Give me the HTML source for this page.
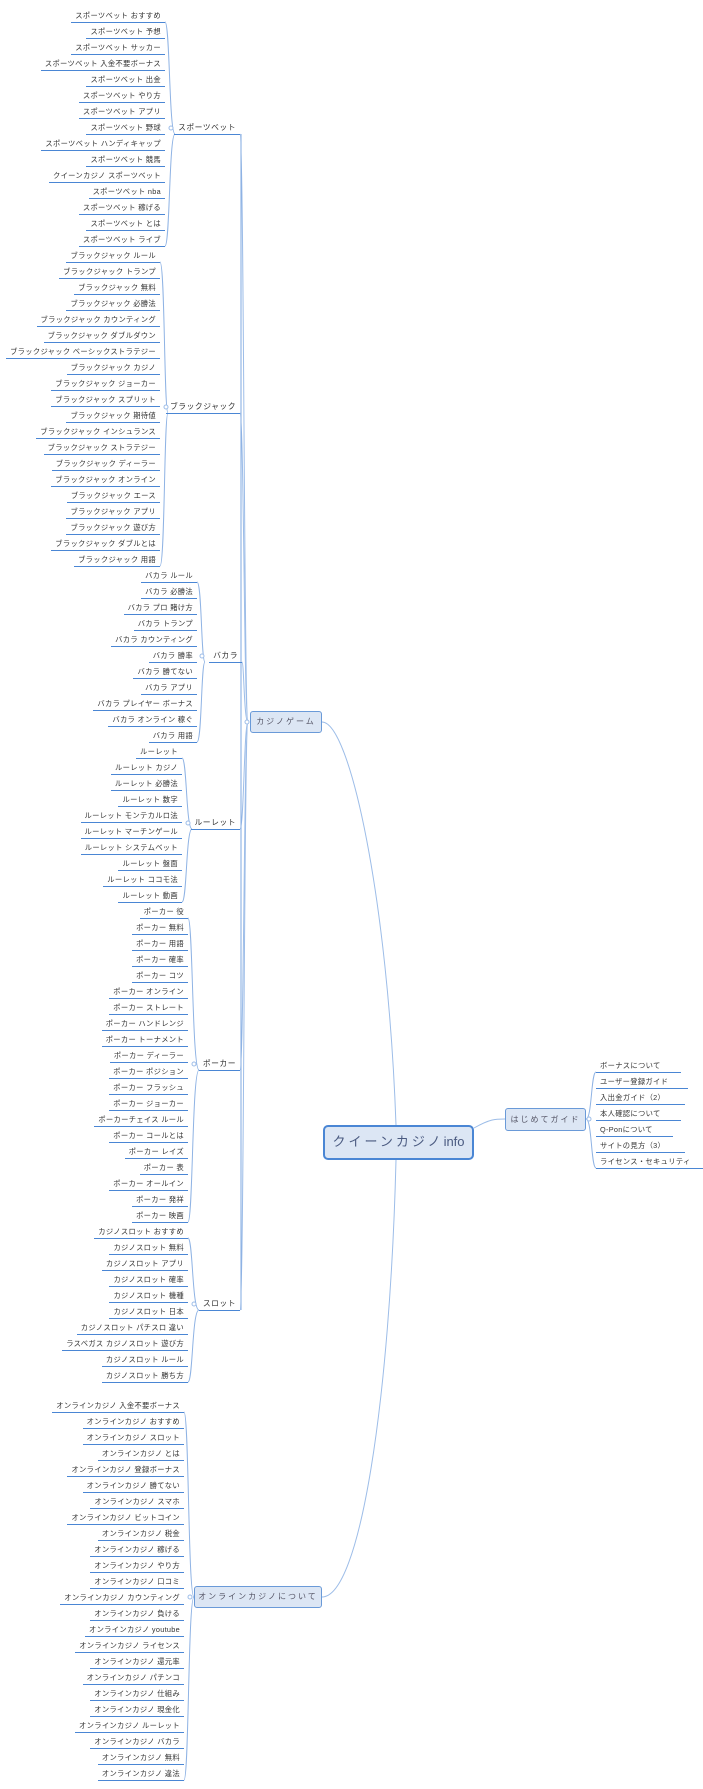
<!DOCTYPE html>
<html><head><meta charset="utf-8"><style>
body{margin:0;background:#fff;}
#c{position:relative;width:703px;height:1789px;overflow:hidden;font-family:"Liberation Sans","Noto Sans CJK JP",sans-serif;color:#333;}
svg{position:absolute;left:0;top:0;}
.i,.g,.r{position:absolute;font-size:7.3px;line-height:10px;padding:0 4px 1px 4px;border-bottom:1.5px solid #4a86d4;white-space:nowrap;letter-spacing:0.3px;}
.g{font-size:7.8px;letter-spacing:0.5px;}
.b{position:absolute;background:#dce6f4;border:1px solid #6a9ad8;border-radius:3px;box-sizing:border-box;text-align:center;font-size:8px;letter-spacing:2px;color:#556;}
</style></head><body><div id="c">
<svg width="703" height="1789" fill="none" stroke="#9dbde8" stroke-width="1">
<path d="M322 722 C350 722 388 900 396 1125"/>
<path d="M322 1597 C360 1597 390 1400 396 1160"/>
<path d="M474 1128 C490 1119 495 1119 505 1119"/>
<path d="M240 134 C244 134 244 722 248 722"/>
<path d="M240 413 C244 413 244 722 248 722"/>
<path d="M242 662 C244 662 244 722 248 722"/>
<path d="M240 829 C244 829 244 722 248 722"/>
<path d="M240 1070 C244 1070 244 722 248 722"/>
<path d="M240 1310 C244 1310 244 722 248 722"/>
<path d="M241 134 L241 1310" stroke="#7fa8e0"/>
<g stroke="#8fb3e4">
<path d="M165 22 C170 22 169 134 175 134 M165 246 C170 246 169 134 175 134"/>
<path d="M160 262 C165 262 164 413 168 413 M160 566 C165 566 164 413 168 413"/>
<path d="M197 582 C202 582 201 662 205 662 M197 742 C202 742 201 662 205 662"/>
<path d="M182 758 C187 758 186 829 192 829 M182 902 C187 902 186 829 192 829"/>
<path d="M188 918 C193 918 192 1070 199 1070 M188 1222 C193 1222 192 1070 199 1070"/>
<path d="M188 1238 C193 1238 192 1310 199 1310 M188 1382 C193 1382 192 1310 199 1310"/>
<path d="M184 1412 C189 1412 188 1597 194 1597 M184 1780 C189 1780 188 1597 194 1597"/>
<path d="M596 1072 C591 1072 592 1119 586 1119 M596 1168 C591 1168 592 1119 586 1119"/>
</g>
<g stroke="#9dbde8" fill="#fff">
<circle cx="171" cy="128" r="2"/><circle cx="166" cy="407" r="2"/><circle cx="202" cy="656" r="2"/>
<circle cx="188" cy="823" r="2"/><circle cx="194" cy="1064" r="2"/><circle cx="194" cy="1304" r="2"/>
<circle cx="190" cy="1597" r="2"/><circle cx="247" cy="722" r="2"/><circle cx="589" cy="1119" r="2"/>
</g>
</svg>

<div class="b" style="left:323px;top:1125px;width:151px;height:35px;border:2.5px solid #4a86d4;border-radius:5px;font-size:13px;line-height:30px;color:#4a5a80;letter-spacing:3px;">クイーンカジノ<span style="letter-spacing:0">info</span></div>
<div class="b" style="left:250px;top:711px;width:72px;height:22px;line-height:20px;">カジノゲーム</div>
<div class="b" style="left:505px;top:1108px;width:81px;height:23px;line-height:21px;">はじめてガイド</div>
<div class="b" style="left:194px;top:1586px;width:128px;height:22px;line-height:20px;">オンラインカジノについて</div>

<div class="g" style="right:463px;top:123px;">スポーツベット</div>
<div class="g" style="right:463px;top:402px;">ブラックジャック</div>
<div class="g" style="right:461px;top:651px;">バカラ</div>
<div class="g" style="right:463px;top:818px;">ルーレット</div>
<div class="g" style="right:463px;top:1059px;">ポーカー</div>
<div class="g" style="right:463px;top:1299px;">スロット</div>

<div class="i" style="right:538px;top:11px">スポーツベット おすすめ</div>
<div class="i" style="right:538px;top:27px">スポーツベット 予想</div>
<div class="i" style="right:538px;top:43px">スポーツベット サッカー</div>
<div class="i" style="right:538px;top:59px">スポーツベット 入金不要ボーナス</div>
<div class="i" style="right:538px;top:75px">スポーツベット 出金</div>
<div class="i" style="right:538px;top:91px">スポーツベット やり方</div>
<div class="i" style="right:538px;top:107px">スポーツベット アプリ</div>
<div class="i" style="right:538px;top:123px">スポーツベット 野球</div>
<div class="i" style="right:538px;top:139px">スポーツベット ハンディキャップ</div>
<div class="i" style="right:538px;top:155px">スポーツベット 競馬</div>
<div class="i" style="right:538px;top:171px">クイーンカジノ スポーツベット</div>
<div class="i" style="right:538px;top:187px">スポーツベット nba</div>
<div class="i" style="right:538px;top:203px">スポーツベット 稼げる</div>
<div class="i" style="right:538px;top:219px">スポーツベット とは</div>
<div class="i" style="right:538px;top:235px">スポーツベット ライブ</div>

<div class="i" style="right:543px;top:251px">ブラックジャック ルール</div>
<div class="i" style="right:543px;top:267px">ブラックジャック トランプ</div>
<div class="i" style="right:543px;top:283px">ブラックジャック 無料</div>
<div class="i" style="right:543px;top:299px">ブラックジャック 必勝法</div>
<div class="i" style="right:543px;top:315px">ブラックジャック カウンティング</div>
<div class="i" style="right:543px;top:331px">ブラックジャック ダブルダウン</div>
<div class="i" style="right:543px;top:347px">ブラックジャック ベーシックストラテジー</div>
<div class="i" style="right:543px;top:363px">ブラックジャック カジノ</div>
<div class="i" style="right:543px;top:379px">ブラックジャック ジョーカー</div>
<div class="i" style="right:543px;top:395px">ブラックジャック スプリット</div>
<div class="i" style="right:543px;top:411px">ブラックジャック 期待値</div>
<div class="i" style="right:543px;top:427px">ブラックジャック インシュランス</div>
<div class="i" style="right:543px;top:443px">ブラックジャック ストラテジー</div>
<div class="i" style="right:543px;top:459px">ブラックジャック ディーラー</div>
<div class="i" style="right:543px;top:475px">ブラックジャック オンライン</div>
<div class="i" style="right:543px;top:491px">ブラックジャック エース</div>
<div class="i" style="right:543px;top:507px">ブラックジャック アプリ</div>
<div class="i" style="right:543px;top:523px">ブラックジャック 遊び方</div>
<div class="i" style="right:543px;top:539px">ブラックジャック ダブルとは</div>
<div class="i" style="right:543px;top:555px">ブラックジャック 用語</div>

<div class="i" style="right:506px;top:571px">バカラ ルール</div>
<div class="i" style="right:506px;top:587px">バカラ 必勝法</div>
<div class="i" style="right:506px;top:603px">バカラ プロ 賭け方</div>
<div class="i" style="right:506px;top:619px">バカラ トランプ</div>
<div class="i" style="right:506px;top:635px">バカラ カウンティング</div>
<div class="i" style="right:506px;top:651px">バカラ 勝率</div>
<div class="i" style="right:506px;top:667px">バカラ 勝てない</div>
<div class="i" style="right:506px;top:683px">バカラ アプリ</div>
<div class="i" style="right:506px;top:699px">バカラ プレイヤー ボーナス</div>
<div class="i" style="right:506px;top:715px">バカラ オンライン 稼ぐ</div>
<div class="i" style="right:506px;top:731px">バカラ 用語</div>

<div class="i" style="right:521px;top:747px">ルーレット</div>
<div class="i" style="right:521px;top:763px">ルーレット カジノ</div>
<div class="i" style="right:521px;top:779px">ルーレット 必勝法</div>
<div class="i" style="right:521px;top:795px">ルーレット 数字</div>
<div class="i" style="right:521px;top:811px">ルーレット モンテカルロ法</div>
<div class="i" style="right:521px;top:827px">ルーレット マーチンゲール</div>
<div class="i" style="right:521px;top:843px">ルーレット システムベット</div>
<div class="i" style="right:521px;top:859px">ルーレット 盤面</div>
<div class="i" style="right:521px;top:875px">ルーレット ココモ法</div>
<div class="i" style="right:521px;top:891px">ルーレット 動画</div>

<div class="i" style="right:515px;top:907px">ポーカー 役</div>
<div class="i" style="right:515px;top:923px">ポーカー 無料</div>
<div class="i" style="right:515px;top:939px">ポーカー 用語</div>
<div class="i" style="right:515px;top:955px">ポーカー 確率</div>
<div class="i" style="right:515px;top:971px">ポーカー コツ</div>
<div class="i" style="right:515px;top:987px">ポーカー オンライン</div>
<div class="i" style="right:515px;top:1003px">ポーカー ストレート</div>
<div class="i" style="right:515px;top:1019px">ポーカー ハンドレンジ</div>
<div class="i" style="right:515px;top:1035px">ポーカー トーナメント</div>
<div class="i" style="right:515px;top:1051px">ポーカー ディーラー</div>
<div class="i" style="right:515px;top:1067px">ポーカー ポジション</div>
<div class="i" style="right:515px;top:1083px">ポーカー フラッシュ</div>
<div class="i" style="right:515px;top:1099px">ポーカー ジョーカー</div>
<div class="i" style="right:515px;top:1115px">ポーカーチェイス ルール</div>
<div class="i" style="right:515px;top:1131px">ポーカー コールとは</div>
<div class="i" style="right:515px;top:1147px">ポーカー レイズ</div>
<div class="i" style="right:515px;top:1163px">ポーカー 表</div>
<div class="i" style="right:515px;top:1179px">ポーカー オールイン</div>
<div class="i" style="right:515px;top:1195px">ポーカー 発祥</div>
<div class="i" style="right:515px;top:1211px">ポーカー 映画</div>

<div class="i" style="right:515px;top:1227px">カジノスロット おすすめ</div>
<div class="i" style="right:515px;top:1243px">カジノスロット 無料</div>
<div class="i" style="right:515px;top:1259px">カジノスロット アプリ</div>
<div class="i" style="right:515px;top:1275px">カジノスロット 確率</div>
<div class="i" style="right:515px;top:1291px">カジノスロット 機種</div>
<div class="i" style="right:515px;top:1307px">カジノスロット 日本</div>
<div class="i" style="right:515px;top:1323px">カジノスロット パチスロ 違い</div>
<div class="i" style="right:515px;top:1339px">ラスベガス カジノスロット 遊び方</div>
<div class="i" style="right:515px;top:1355px">カジノスロット ルール</div>
<div class="i" style="right:515px;top:1371px">カジノスロット 勝ち方</div>

<div class="i" style="right:519px;top:1401px">オンラインカジノ 入金不要ボーナス</div>
<div class="i" style="right:519px;top:1417px">オンラインカジノ おすすめ</div>
<div class="i" style="right:519px;top:1433px">オンラインカジノ スロット</div>
<div class="i" style="right:519px;top:1449px">オンラインカジノ とは</div>
<div class="i" style="right:519px;top:1465px">オンラインカジノ 登録ボーナス</div>
<div class="i" style="right:519px;top:1481px">オンラインカジノ 勝てない</div>
<div class="i" style="right:519px;top:1497px">オンラインカジノ スマホ</div>
<div class="i" style="right:519px;top:1513px">オンラインカジノ ビットコイン</div>
<div class="i" style="right:519px;top:1529px">オンラインカジノ 税金</div>
<div class="i" style="right:519px;top:1545px">オンラインカジノ 稼げる</div>
<div class="i" style="right:519px;top:1561px">オンラインカジノ やり方</div>
<div class="i" style="right:519px;top:1577px">オンラインカジノ 口コミ</div>
<div class="i" style="right:519px;top:1593px">オンラインカジノ カウンティング</div>
<div class="i" style="right:519px;top:1609px">オンラインカジノ 負ける</div>
<div class="i" style="right:519px;top:1625px">オンラインカジノ youtube</div>
<div class="i" style="right:519px;top:1641px">オンラインカジノ ライセンス</div>
<div class="i" style="right:519px;top:1657px">オンラインカジノ 還元率</div>
<div class="i" style="right:519px;top:1673px">オンラインカジノ パチンコ</div>
<div class="i" style="right:519px;top:1689px">オンラインカジノ 仕組み</div>
<div class="i" style="right:519px;top:1705px">オンラインカジノ 現金化</div>
<div class="i" style="right:519px;top:1721px">オンラインカジノ ルーレット</div>
<div class="i" style="right:519px;top:1737px">オンラインカジノ バカラ</div>
<div class="i" style="right:519px;top:1753px">オンラインカジノ 無料</div>
<div class="i" style="right:519px;top:1769px">オンラインカジノ 違法</div>

<div class="i" style="left:596px;top:1061px;padding-right:20px">ボーナスについて</div>
<div class="i" style="left:596px;top:1077px;padding-right:20px">ユーザー登録ガイド</div>
<div class="i" style="left:596px;top:1093px;padding-right:20px">入出金ガイド（2）</div>
<div class="i" style="left:596px;top:1109px;padding-right:20px">本人確認について</div>
<div class="i" style="left:596px;top:1125px;padding-right:20px">Q-Ponについて</div>
<div class="i" style="left:596px;top:1141px;padding-right:20px">サイトの見方（3）</div>
<div class="i" style="left:596px;top:1157px;padding-right:14px">ライセンス・セキュリティ</div>
</div></body></html>
